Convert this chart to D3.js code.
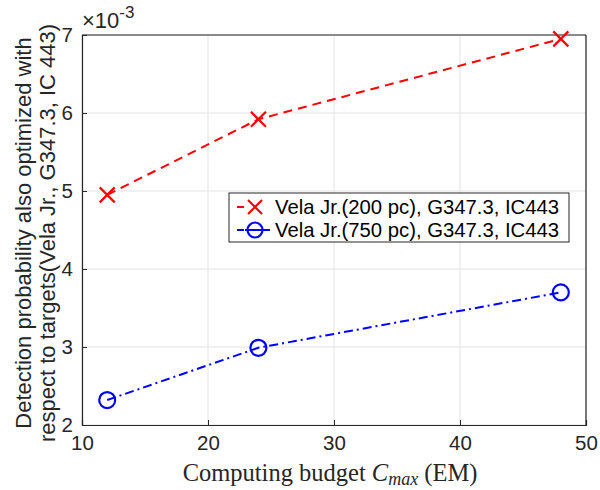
<!DOCTYPE html>
<html><head><meta charset="utf-8">
<script src="https://cdn.jsdelivr.net/npm/d3@7"></script>
<style>body{margin:0;background:#fff}</style>
</head><body><svg id="c" width="600" height="490"></svg>
<script>
const budgets = [12, 24, 48];
const vela200 = [4.95, 5.92, 6.95];
const vela750 = [2.32, 2.99, 3.70];
const xTicks = [10, 20, 30, 40, 50];
const yTicks = [2, 3, 4, 5, 6, 7];
const seriesNames = ["Vela Jr.(200 pc), G347.3, IC443", "Vela Jr.(750 pc), G347.3, IC443"];

const svg = d3.select("#c");
const L = 82, R = 586, T = 35, B = 425;
const x = d3.scaleLinear().domain([10, 50]).range([L, R]);
const y = d3.scaleLinear().domain([2, 7]).range([B, T]);
const font = "'Liberation Sans', Arial, sans-serif";
const axCol = "#262626";

// grid
svg.append("g").selectAll("line").data(xTicks).join("line")
  .attr("x1", d => x(d)).attr("x2", d => x(d)).attr("y1", T).attr("y2", B)
  .attr("stroke", "#e3e3e3").attr("stroke-width", 1);
svg.append("g").selectAll("line").data(yTicks).join("line")
  .attr("y1", d => y(d)).attr("y2", d => y(d)).attr("x1", L).attr("x2", R)
  .attr("stroke", "#e3e3e3").attr("stroke-width", 1);

// axes
const xa = svg.append("g").attr("transform", `translate(0,${B})`)
  .call(d3.axisBottom(x).tickValues(xTicks).tickSize(-5).tickPadding(10).tickFormat(d3.format("d")));
const ya = svg.append("g").attr("transform", `translate(${L},0)`)
  .call(d3.axisLeft(y).tickValues(yTicks).tickSize(-5).tickPadding(9).tickFormat(d3.format("d")));
[xa, ya].forEach(a => {
  a.select(".domain").attr("stroke", axCol).attr("stroke-width", 1.2);
  a.selectAll(".tick line").attr("stroke", axCol);
  a.selectAll("text").attr("fill", axCol).style("font-family", font).style("font-size", "20.5px");
});
// box top/right
svg.append("line").attr("x1", L).attr("x2", R).attr("y1", T).attr("y2", T).attr("stroke", axCol).attr("stroke-width", 1.2);
svg.append("line").attr("x1", R).attr("x2", R).attr("y1", T).attr("y2", B).attr("stroke", axCol).attr("stroke-width", 1.2);

// exponent
const ex = svg.append("text").attr("x", L).attr("y", 28).attr("fill", axCol)
  .style("font-family", font).style("font-size", "22px");
ex.append("tspan").text("\u00d710");
ex.append("tspan").attr("dy", -10).style("font-size", "17px").text("-3");

// lines
const line = d3.line().x(d => x(d[0])).y(d => y(d[1]));
const d200 = budgets.map((b, i) => [b, vela200[i]]);
const d750 = budgets.map((b, i) => [b, vela750[i]]);
svg.append("path").datum(d200).attr("d", line).attr("fill", "none")
  .attr("stroke", "#ff0000").attr("stroke-width", 2).attr("stroke-dasharray", "9,6");
svg.append("path").datum(d750).attr("d", line).attr("fill", "none")
  .attr("stroke", "#0000ff").attr("stroke-width", 2).attr("stroke-dasharray", "9,4,2,4");

function xMark(g, cx, cy, s) {
  g.append("path").attr("d", `M${cx-s},${cy-s}L${cx+s},${cy+s}M${cx-s},${cy+s}L${cx+s},${cy-s}`)
    .attr("stroke", "#ff0000").attr("stroke-width", 2.2).attr("fill", "none");
}
function oMark(g, cx, cy, r) {
  g.append("circle").attr("cx", cx).attr("cy", cy).attr("r", r)
    .attr("stroke", "#0000ff").attr("stroke-width", 2.2).attr("fill", "none");
}
const mg = svg.append("g");
d200.forEach(d => xMark(mg, x(d[0]), y(d[1]), 7.5));
d750.forEach(d => oMark(mg, x(d[0]), y(d[1]), 8));

// legend
const lg = svg.append("g");
lg.append("rect").attr("x", 229).attr("y", 193).attr("width", 340).attr("height", 49)
  .attr("fill", "#fff").attr("stroke", axCol).attr("stroke-width", 1);
const rows = [207, 230];
lg.append("line").attr("x1", 237).attr("x2", 244).attr("y1", rows[0]).attr("y2", rows[0])
  .attr("stroke", "#ff0000").attr("stroke-width", 2);
xMark(lg, 255, rows[0], 7);
lg.append("line").attr("x1", 237).attr("x2", 244).attr("y1", rows[1]).attr("y2", rows[1])
  .attr("stroke", "#0000ff").attr("stroke-width", 2);
lg.append("line").attr("x1", 245).attr("x2", 265).attr("y1", rows[1]).attr("y2", rows[1])
  .attr("stroke", "#0000ff").attr("stroke-width", 2);
lg.append("line").attr("x1", 265).attr("x2", 270).attr("y1", rows[1]).attr("y2", rows[1])
  .attr("stroke", "#0000ff").attr("stroke-width", 2);
oMark(lg, 255, rows[1], 7.5);
seriesNames.forEach((n, i) => {
  lg.append("text").attr("x", 275).attr("y", rows[i] + 7).text(n).attr("fill", "#000")
    .style("font-family", font).style("font-size", "20.3px");
});

// axis labels
const serif = "'Liberation Serif', 'Times New Roman', serif";
const xl = svg.append("text").attr("x", 330).attr("y", 481).attr("text-anchor", "middle")
  .attr("fill", axCol).style("font-family", serif).style("font-size", "24.5px");
xl.append("tspan").text("Computing budget ");
xl.append("tspan").style("font-style", "italic").text("C");
xl.append("tspan").attr("dy", 4).style("font-style", "italic").style("font-size", "18px").text("max");
xl.append("tspan").attr("dy", -4).text(" (EM)");

const yl = svg.append("text").attr("transform", `translate(0,${233}) rotate(-90)`)
  .attr("text-anchor", "middle").attr("fill", axCol).style("font-family", font).style("font-size", "22px");
yl.append("tspan").attr("x", 0).attr("y", 31).text("Detection probability also optimized with");
yl.append("tspan").attr("x", 0).attr("y", 55).text("respect to targets(Vela Jr., G347.3, IC 443)");
</script></body></html>
